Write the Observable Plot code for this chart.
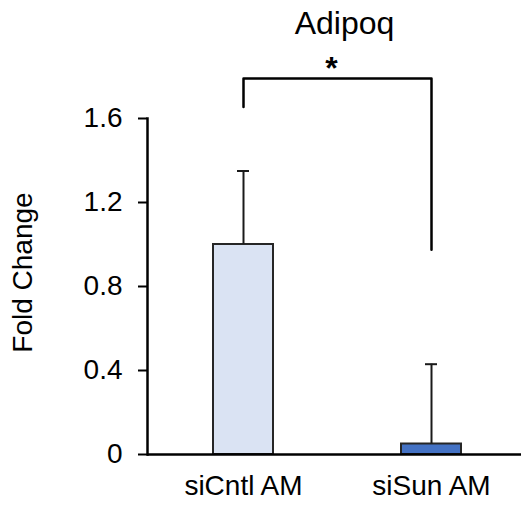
<!DOCTYPE html>
<html>
<head>
<meta charset="utf-8">
<script src="https://cdn.jsdelivr.net/npm/d3@7"></script>
<script src="https://cdn.jsdelivr.net/npm/@observablehq/plot@0.6"></script>
<style>
  html, body { margin: 0; padding: 0; background: #fff; }
  #chart svg { display: block; }
</style>
</head>
<body>
<div id="chart"></div>
<script>
// ---- data ----
const categories = ["siCntl AM", "siSun AM"];
const foldChange = [1.0, 0.05];
const errorUp = [0.35, 0.38];
const barColors = ["#dae3f3", "#4472c4"];
const yTicks = [0, 0.4, 0.8, 1.2, 1.6];
const yTickLabels = ["0", "0.4", "0.8", "1.2", "1.6"];
const titleText = "Adipoq";
const yLabel = "Fold Change";
const significance = "*";
// bracket annotation levels (in fold-change units)
const bracketTop = 1.79;
const bracketLeftFoot = 1.655;
const bracketRightFoot = 0.975;

const rows = categories.map((c, i) => ({
  cat: c, value: foldChange[i], hi: foldChange[i] + errorUp[i], color: barColors[i]
}));
const bracket = [
  {x: categories[0], y: bracketLeftFoot},
  {x: categories[0], y: bracketTop},
  {x: categories[1], y: bracketTop},
  {x: categories[1], y: bracketRightFoot}
];

const font = "'Liberation Sans', Arial, sans-serif";

const chart = Plot.plot({
  width: 521,
  height: 505,
  marginLeft: 147,
  marginRight: 0,
  marginTop: 118,
  marginBottom: 51,
  style: {fontFamily: font, fontSize: "28px", color: "#000", background: "#fff"},
  x: {domain: categories, paddingInner: 0.683, paddingOuter: 0.331, align: 0.52, label: null},
  y: {domain: [0, 1.6], label: null},
  marks: [
    Plot.barY(rows, {x: "cat", y: "value", fill: "color", stroke: "#262626", strokeWidth: 2}),
    Plot.ruleX(rows, {x: "cat", y1: "value", y2: "hi", stroke: "#1a1a1a", strokeWidth: 2}),
    Plot.tickY(rows, {x: "cat", y: "hi", stroke: "#1a1a1a", strokeWidth: 2, insetLeft: 24, insetRight: 24}),
    Plot.frame({anchor: "left", stroke: "#000", strokeWidth: 2.5}),
    Plot.ruleY([0], {stroke: "#000", strokeWidth: 2.5}),
    Plot.axisY({ticks: yTicks, tickFormat: (d) => yTickLabels[yTicks.indexOf(d)], tickSize: 9, tickPadding: 16, fontSize: 28, stroke: "#000", strokeWidth: 2, label: null}),
    Plot.axisX({tickSize: 0, tickPadding: 21, fontSize: 28, label: null}),
    Plot.text([yLabel], {frameAnchor: "left", dx: -116, dy: -14, rotate: -90, textAnchor: "middle", lineAnchor: "bottom", fontSize: 28, text: d => d}),
    Plot.line(bracket, {x: "x", y: "y", stroke: "#000", strokeWidth: 2.5, curve: "linear"}),
    Plot.text([significance], {x: () => categories[0], y: () => bracketTop, dx: 88, dy: 0, fontSize: 32, fontWeight: "bold", lineAnchor: "bottom", text: d => d}),
    Plot.text([titleText], {frameAnchor: "top", dx: 10, dy: -85, lineAnchor: "bottom", fontSize: 32, text: d => d})
  ]
});
document.getElementById("chart").appendChild(chart);
</script>
</body>
</html>
